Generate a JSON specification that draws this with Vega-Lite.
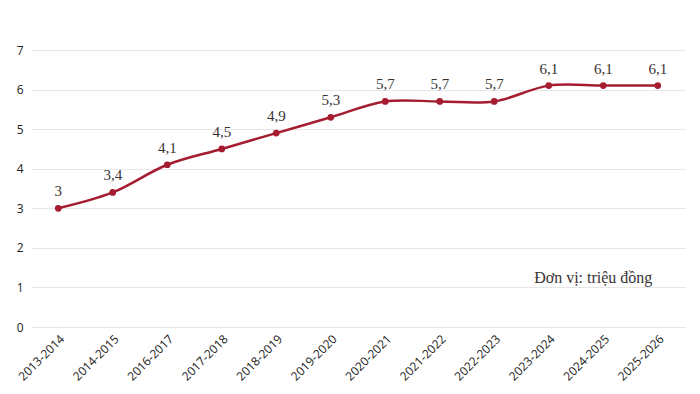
{
  "$schema": "https://vega.github.io/schema/vega-lite/v6.json",
  "width": 654,
  "height": 277,
  "autosize": {"type": "none"},
  "padding": {"left": 31, "top": 50, "right": 15, "bottom": 67},
  "background": "white",
  "config": {"view": {"stroke": null}},
  "data": {
    "values": [
      {"year": "2013-2014", "value": 3, "label": "3"},
      {"year": "2014-2015", "value": 3.4, "label": "3,4"},
      {"year": "2016-2017", "value": 4.1, "label": "4,1"},
      {"year": "2017-2018", "value": 4.5, "label": "4,5"},
      {"year": "2018-2019", "value": 4.9, "label": "4,9"},
      {"year": "2019-2020", "value": 5.3, "label": "5,3"},
      {"year": "2020-2021", "value": 5.7, "label": "5,7"},
      {"year": "2021-2022", "value": 5.7, "label": "5,7"},
      {"year": "2022-2023", "value": 5.7, "label": "5,7"},
      {"year": "2023-2024", "value": 6.1, "label": "6,1"},
      {"year": "2024-2025", "value": 6.1, "label": "6,1"},
      {"year": "2025-2026", "value": 6.1, "label": "6,1"}
    ]
  },
  "encoding": {
    "x": {
      "field": "year",
      "type": "ordinal",
      "sort": null,
      "scale": {"type": "point", "padding": 0.5},
      "axis": {
        "title": null,
        "labelAngle": -45,
        "labelFont": "Open Sans",
        "labelFontSize": 12,
        "labelColor": "#222222",
        "ticks": false,
        "domain": false,
        "labelPadding": 6
      }
    },
    "y": {
      "field": "value",
      "type": "quantitative",
      "scale": {"domain": [0, 7]},
      "axis": {
        "title": null,
        "values": [0, 1, 2, 3, 4, 5, 6, 7],
        "labelFont": "Open Sans",
        "labelFontSize": 12,
        "labelColor": "#222222",
        "ticks": false,
        "domain": false,
        "labelPadding": 8,
        "gridColor": "#e6e6e6",
        "gridWidth": 1
      }
    }
  },
  "layer": [
    {
      "mark": {"type": "line", "interpolate": "catmull-rom", "color": "#a51c30", "strokeWidth": 2.5}
    },
    {
      "mark": {"type": "point", "filled": true, "color": "#a51c30", "size": 45, "opacity": 1}
    },
    {
      "mark": {"type": "text", "font": "Liberation Serif", "fontSize": 15, "color": "#3a3333", "dy": -17, "baseline": "middle"},
      "encoding": {"text": {"field": "label"}}
    },
    {
      "transform": [{"filter": "datum.year === '2024-2025'"}],
      "mark": {"type": "text", "font": "Liberation Serif", "fontSize": 16, "color": "#3a3333", "align": "center", "baseline": "middle", "dx": -10},
      "encoding": {
        "y": {"datum": 1.24},
        "text": {"value": "Đơn vị: triệu đồng"}
      }
    }
  ]
}
